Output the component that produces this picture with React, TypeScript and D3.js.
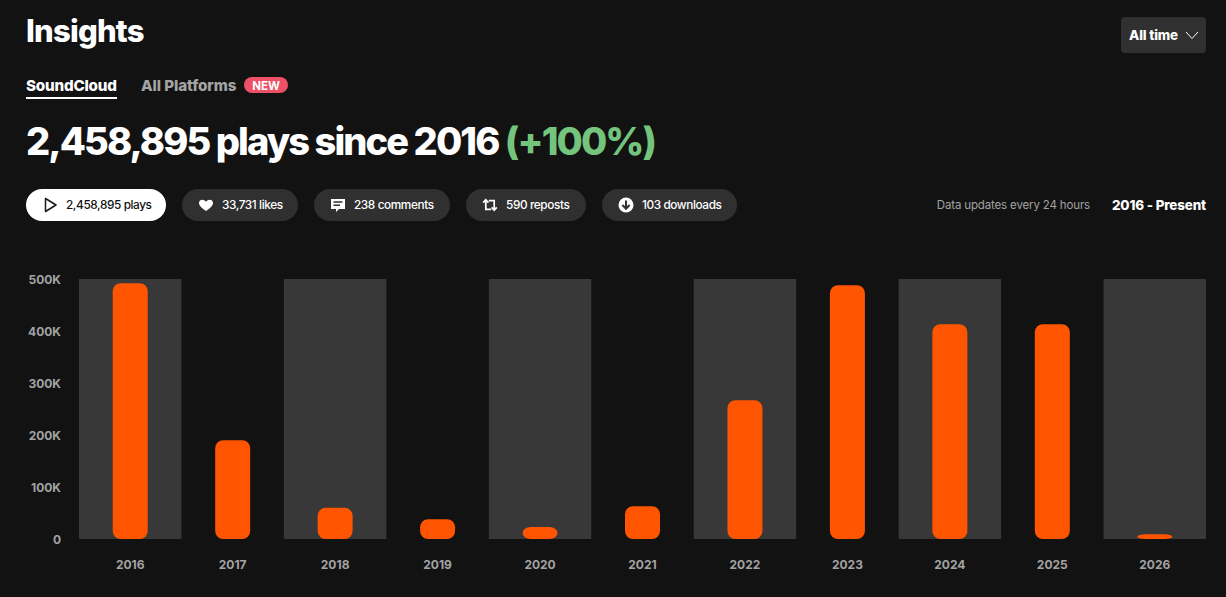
import React from "react";
import * as d3 from "d3";

const years = ["2016","2017","2018","2019","2020","2021","2022","2023","2024","2025","2026"];
const plays = [492000,190000,60000,38000,23000,63000,267000,488000,413000,413000,9000];
const yTicks = [0,100000,200000,300000,400000,500000];
const shadedYears = ["2016","2018","2020","2022","2024","2026"];
const pills = [
  { label: "2,458,895 plays", x: 26, w: 140, icon: "play", textX: 66, active: true },
  { label: "33,731 likes", x: 182, w: 116, icon: "heart", textX: 222, active: false },
  { label: "238 comments", x: 314, w: 136, icon: "comment", textX: 354, active: false },
  { label: "590 reposts", x: 466, w: 120, icon: "repost", textX: 506, active: false },
  { label: "103 downloads", x: 602, w: 135, icon: "download", textX: 642, active: false },
];

const FONT = "Inter, 'Liberation Sans', sans-serif";
const W = 1226, H = 597;
const x = d3.scaleBand<string>().domain(years).range([79, 1206]).padding(0);
const y = d3.scaleLinear().domain([0, 500000]).range([539, 279]);
const BAR_W = 35;
const fmt = (v: number) => (v === 0 ? "0" : `${v / 1000}K`);

function Icon({ kind, cx, cy, color }: { kind: string; cx: number; cy: number; color: string }) {
  const t = `translate(${cx},${cy})`;
  if (kind === "play") return <path transform={t} d="M-4.5,-6.5 L6,0 L-4.5,6.5 Z" fill="none" stroke={color} strokeWidth={1.5} strokeLinejoin="round" />;
  if (kind === "heart") return <path transform={t} d="M0,6 C-4,3 -7,0.8 -7,-2 C-7,-4.2 -5.3,-5.3 -3.7,-5.3 C-2.2,-5.3 -0.8,-4.5 0,-3.2 C0.8,-4.5 2.2,-5.3 3.7,-5.3 C5.3,-5.3 7,-4.2 7,-2 C7,0.8 4,3 0,6 Z" fill={color} />;
  if (kind === "comment") return (
    <g transform={t}>
      <path d="M-7,-6 H7 V4 H1 L-2,7 V4 H-7 Z" fill={color} />
      <path d="M-4.5,-3 H4.5 M-4.5,0.3 H2" stroke="#333" strokeWidth={1.5} />
    </g>
  );
  if (kind === "repost") return (
    <g transform={t} fill="none" stroke={color} strokeWidth={1.7}>
      <path d="M-4.2,-5 V4.4 H1.2" /><path d="M-6.8,-2.4 L-4.2,-5.2 L-1.6,-2.4" />
      <path d="M4.2,5 V-4.4 H-1.2" /><path d="M1.6,2.4 L4.2,5.2 L6.8,2.4" />
    </g>
  );
  return (
    <g transform={t}>
      <circle r={7.5} fill={color} />
      <path d="M0,-4.4 V3 M-3.6,0 L0,3.8 L3.6,0" stroke="#333" strokeWidth={2} fill="none" />
    </g>
  );
}

export default function App() {
  const bw = x.bandwidth();
  return (
    <svg width={W} height={H} viewBox={`0 0 ${W} ${H}`} style={{ position: "fixed", left: 0, top: 0, display: "block" }} fontFamily={FONT}>
      <rect width={W} height={H} fill="#121212" />

      <text x={26} y={42} fontSize={31} fontWeight={800} fill="#fff" letterSpacing={-0.8}>Insights</text>

      <rect x={1121} y={17} width={85} height={36} rx={4} fill="#303030" />
      <text x={1129} y={40} fontSize={13.4} fontWeight={800} fill="#fff" letterSpacing={-0.15}>All time</text>
      <path d="M1186,32 L1192,38.5 L1198,32" fill="none" stroke="#fff" strokeWidth={1} />

      <text x={26} y={91} fontSize={15.2} fontWeight={800} fill="#fff" letterSpacing={-0.2}>SoundCloud</text>
      <rect x={26} y={97} width={91} height={2} fill="#fff" />
      <text x={141} y={91} fontSize={15.2} fontWeight={800} fill="#a3a3a3" letterSpacing={-0.1}>All Platforms</text>
      <rect x={244} y={77} width={44} height={16} rx={8} fill="#ee5066" />
      <text x={266} y={89.5} fontSize={11.5} fontWeight={700} fill="#fff" textAnchor="middle">NEW</text>

      <text x={26} y={155} fontSize={38} fontWeight={800} fill="#fff" letterSpacing={-1.9}>
        2,458,895 plays since 2016 <tspan fill="#74c47e">(+100%)</tspan>
      </text>

      {pills.map((p) => (
        <g key={p.label}>
          <rect x={p.x} y={189} width={p.w} height={32} rx={16} fill={p.active ? "#fff" : "#303030"} />
          <Icon kind={p.icon} cx={p.x + 24} cy={205} color={p.active ? "#1a1a1a" : "#fff"} />
          <text x={p.textX} y={209} fontSize={11.8} fontWeight={500} fill={p.active ? "#121212" : "#fff"} letterSpacing={-0.4}>{p.label}</text>
        </g>
      ))}

      <text x={1090} y={209} fontSize={11.5} textAnchor="end" fill="#a3a3a3" letterSpacing={-0.15}>Data updates every 24 hours</text>
      <text x={1206} y={210} fontSize={13.4} fontWeight={800} textAnchor="end" fill="#fff" letterSpacing={-0.15}>2016 - Present</text>

      {shadedYears.map((yr) => (
        <rect key={yr} x={x(yr)} y={y(500000)} width={bw} height={y(0) - y(500000)} fill="#383838" />
      ))}

      {yTicks.map((t) => (
        <text key={t} x={61} y={y(t) + 4.5} fontSize={12} fontWeight={700} textAnchor="end" fill="#a3a3a3">{fmt(t)}</text>
      ))}

      {years.map((yr, i) => {
        const cx = x(yr)! + bw / 2;
        const h = y(0) - y(plays[i]);
        return (
          <g key={yr}>
            <rect x={cx - BAR_W / 2} y={y(plays[i])} width={BAR_W} height={h} rx={8} ry={Math.min(8, h / 2)} fill="#ff5500" />
            <text x={cx} y={569} fontSize={12} fontWeight={700} textAnchor="middle" fill="#a3a3a3">{yr}</text>
          </g>
        );
      })}
    </svg>
  );
}
